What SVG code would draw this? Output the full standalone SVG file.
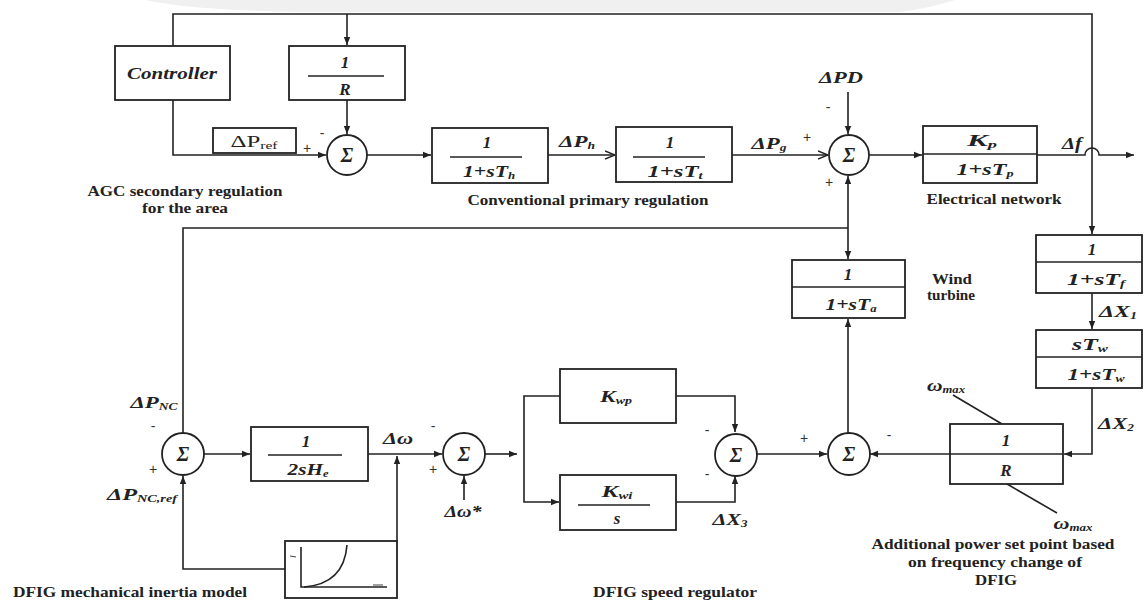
<svg xmlns="http://www.w3.org/2000/svg" width="1144" height="601" viewBox="0 0 1144 601">
<defs>
<marker id="ar" viewBox="0 0 10 10" refX="10" refY="5" markerWidth="8" markerHeight="8" markerUnits="userSpaceOnUse" orient="auto"><path d="M0,1 L10,5 L0,9 Z" fill="#222"/></marker>
<marker id="ao" viewBox="0 0 10 10" refX="10" refY="5" markerWidth="10" markerHeight="10" markerUnits="userSpaceOnUse" orient="auto"><path d="M0,1 L10,5 L0,9" fill="none" stroke="#222" stroke-width="1.5"/></marker>
</defs>
<style>
.ln{stroke:#222;stroke-width:1.6;fill:none}
.ar{marker-end:url(#ar)}
.ao{marker-end:url(#ao)}
.bx{stroke:#222;stroke-width:1.8;fill:#fff}
.fl{stroke:#222;stroke-width:1.6}
.sm{stroke:#222;stroke-width:1.8;fill:#fff}
.m{font-family:"Liberation Serif",serif;font-weight:bold;font-style:italic;font-size:17px;fill:#222;text-anchor:middle}
.sig{font-family:"Liberation Serif",serif;font-weight:bold;font-style:italic;font-size:20px;fill:#222;text-anchor:middle}
.r{font-family:"Liberation Serif",serif;font-size:16px;fill:#222;text-anchor:middle}
.cap{font-family:"Liberation Serif",serif;font-weight:bold;font-size:14.5px;fill:#222;text-anchor:middle}
.sg{font-family:"Liberation Sans",sans-serif;font-size:14px;fill:#333;text-anchor:middle}
.sb{font-size:10px}
</style>
<rect width="1144" height="601" fill="#fff"/>
<path d="M145,0 H955 Q930,8 900,12 L300,12 Q190,10 145,0 Z" fill="#f0f0f0"/>

<g id="connectors">
<path class="ln" d="M173,46 V14 H1092 V234" marker-end="url(#ar)"/>
<path class="ln ar" d="M347,14 V45"/>
<path class="ln ar" d="M173,100 V155 H326"/>
<path class="ln ar" d="M347,100 V134"/>
<path class="ln ar" d="M367,155 H431"/>
<path class="ln ao" d="M548,155 H615"/>
<path class="ln ao" d="M732,155 H828"/>
<path class="ln ar" d="M848,92 V134"/>
<path class="ln ar" d="M869,155 H922"/>
<path class="ln ar" d="M1037,155 H1085 A7,7 0 0 1 1099,155 H1134"/>
<path class="ln" d="M183,433 V228 H848"/>
<path class="ln ar" d="M848,228 V176"/>
<path class="ln ar" d="M848,228 V259"/>
<path class="ln ar" d="M848,433 V319"/>
<path class="ln ar" d="M1092,293 V329"/>
<path class="ln ar" d="M1092,388 V454 H1064"/>
<path class="ln ar" d="M950,454 H870"/>
<path class="ln ar" d="M757,454 H827"/>
<path class="ln ar" d="M676,396 H735 V432"/>
<path class="ln ar" d="M676,502 H735 V476"/>
<path class="ln ar" d="M485,454 H517"/>
<path class="ln ar" d="M560,396 H524 V502 H559"/>
<path class="ln ar" d="M464,500 V476"/>
<path class="ln ar" d="M368,454 H442"/>
<path class="ln ar" d="M397,541 V456"/>
<path class="ln ar" d="M285,569 H183 V476"/>
<path class="ln ar" d="M204,454 H250"/>
<path class="ln" d="M953,395 L1002,424"/>
<path class="ln" d="M1007,484 L1057,513"/>
</g>

<g id="controller">
<rect class="bx" x="115" y="46" width="115" height="54"/>
<text class="m" x="172" y="79" textLength="90" lengthAdjust="spacingAndGlyphs">Controller</text>
</g>

<g id="gain-1-R-top">
<rect class="bx" x="289" y="46" width="116" height="54"/>
<line class="fl" x1="308" y1="76" x2="384" y2="76"/>
<text class="m" x="345" y="68">1</text>
<text class="m" x="345" y="95">R</text>
</g>

<g id="delta-p-ref">
<rect class="bx" x="213" y="128" width="83" height="25"/>
<text class="r" x="254" y="147" textLength="47" lengthAdjust="spacingAndGlyphs">ΔP<tspan class="sb" dy="2">ref</tspan></text>
</g>

<g id="sum-agc">
<circle class="sm" cx="347" cy="155" r="20"/>
<text class="sig" x="347" y="162">Σ</text>
<text class="sg" x="307" y="153">+</text>
<text class="sg" x="322" y="138">-</text>
</g>

<g id="governor">
<rect class="bx" x="432" y="128" width="116" height="55"/>
<line class="fl" x1="450" y1="157" x2="522" y2="157"/>
<text class="m" x="487" y="148">1</text>
<text class="m" x="489" y="177" textLength="52" lengthAdjust="spacingAndGlyphs">1+sT<tspan class="sb" dy="2">h</tspan></text>
</g>

<g id="turbine">
<rect class="bx" x="616" y="127" width="116" height="55"/>
<line class="fl" x1="633" y1="157" x2="705" y2="157"/>
<text class="m" x="670" y="148">1</text>
<text class="m" x="675" y="177" textLength="55" lengthAdjust="spacingAndGlyphs">1+sT<tspan class="sb" dy="2">t</tspan></text>
</g>

<g id="sum-network">
<circle class="sm" cx="849" cy="155" r="20"/>
<text class="sig" x="849" y="162">Σ</text>
<text class="sg" x="807" y="142">+</text>
<text class="sg" x="828" y="112">-</text>
<text class="sg" x="829" y="187">+</text>
</g>

<g id="network">
<rect class="bx" x="923" y="126" width="114" height="57"/>
<line class="fl" x1="923" y1="154" x2="1037" y2="154"/>
<text class="m" x="982" y="146" textLength="30" lengthAdjust="spacingAndGlyphs">K<tspan class="sb" dy="2">p</tspan></text>
<text class="m" x="985" y="175" textLength="57" lengthAdjust="spacingAndGlyphs">1+sT<tspan class="sb" dy="2">p</tspan></text>
</g>

<g id="wind-turbine">
<rect class="bx" x="792" y="260" width="113" height="58"/>
<line class="fl" x1="792" y1="287" x2="905" y2="287"/>
<text class="m" x="848" y="280">1</text>
<text class="m" x="851" y="310" textLength="51" lengthAdjust="spacingAndGlyphs">1+sT<tspan class="sb" dy="2">a</tspan></text>
</g>

<g id="filter-tf">
<rect class="bx" x="1036" y="235" width="106" height="58"/>
<line class="fl" x1="1036" y1="262" x2="1142" y2="262"/>
<text class="m" x="1092" y="255">1</text>
<text class="m" x="1096" y="285" textLength="58" lengthAdjust="spacingAndGlyphs">1+sT<tspan class="sb" dy="2">f</tspan></text>
</g>

<g id="washout-tw">
<rect class="bx" x="1036" y="330" width="106" height="58"/>
<line class="fl" x1="1036" y1="357" x2="1142" y2="357"/>
<text class="m" x="1090" y="350" textLength="36" lengthAdjust="spacingAndGlyphs">sT<tspan class="sb" dy="2">w</tspan></text>
<text class="m" x="1096" y="380" textLength="57" lengthAdjust="spacingAndGlyphs">1+sT<tspan class="sb" dy="2">w</tspan></text>
</g>

<g id="gain-1-R-dfig">
<rect class="bx" x="950" y="424" width="113" height="60"/>
<line class="fl" x1="950" y1="454" x2="1063" y2="454"/>
<text class="m" x="1006" y="446">1</text>
<text class="m" x="1006" y="476">R</text>
</g>

<g id="sum-dfig-power">
<circle class="sm" cx="849" cy="454" r="21"/>
<text class="sig" x="849" y="461">Σ</text>
<text class="sg" x="804" y="443">+</text>
<text class="sg" x="889" y="440">-</text>
</g>

<g id="sum-speed-reg">
<circle class="sm" cx="736" cy="455" r="21"/>
<text class="sig" x="736" y="462">Σ</text>
<text class="sg" x="707" y="435">-</text>
<text class="sg" x="707" y="479">-</text>
</g>

<g id="kwp">
<rect class="bx" x="560" y="369" width="116" height="54"/>
<text class="m" x="616" y="402" textLength="32" lengthAdjust="spacingAndGlyphs">K<tspan class="sb" dy="2">wp</tspan></text>
</g>

<g id="kwi">
<rect class="bx" x="560" y="475" width="116" height="55"/>
<line class="fl" x1="578" y1="505" x2="650" y2="505"/>
<text class="m" x="617" y="497" textLength="31" lengthAdjust="spacingAndGlyphs">K<tspan class="sb" dy="2">wi</tspan></text>
<text class="m" x="617" y="524">s</text>
</g>

<g id="sum-speed-error">
<circle class="sm" cx="464" cy="454" r="21"/>
<text class="sig" x="464" y="461">Σ</text>
<text class="sg" x="433" y="431">-</text>
<text class="sg" x="433" y="474">+</text>
</g>

<g id="inertia">
<rect class="bx" x="251" y="427" width="117" height="54"/>
<line class="fl" x1="268" y1="455" x2="342" y2="455"/>
<text class="m" x="306" y="447">1</text>
<text class="m" x="308" y="475" textLength="41" lengthAdjust="spacingAndGlyphs">2sH<tspan class="sb" dy="2">e</tspan></text>
</g>

<g id="sum-inertia">
<circle class="sm" cx="183" cy="454" r="21"/>
<text class="sig" x="183" y="461">Σ</text>
<text class="sg" x="153" y="431">-</text>
<text class="sg" x="153" y="474">+</text>
</g>

<g id="power-curve">
<rect class="bx" x="285" y="541" width="112" height="57"/>
<path class="ln" d="M301,547 V587 H387"/>
<path class="ln" d="M304,587 Q344,584 347,545"/>
<line x1="290" y1="556" x2="296" y2="557" stroke="#444" stroke-width="1"/>
<line x1="373" y1="585" x2="383" y2="585" stroke="#444" stroke-width="1"/>
</g>

<g id="labels">
<text class="m" x="577" y="147" textLength="36" lengthAdjust="spacingAndGlyphs">ΔP<tspan class="sb" dy="2">h</tspan></text>
<text class="m" x="769" y="149" textLength="35" lengthAdjust="spacingAndGlyphs">ΔP<tspan class="sb" dy="2">g</tspan></text>
<text class="m" x="841" y="83" textLength="44" lengthAdjust="spacingAndGlyphs">ΔPD</text>
<text class="m" x="1072" y="149" textLength="20" lengthAdjust="spacingAndGlyphs">Δf</text>
<text class="m" x="1118" y="317" textLength="38" lengthAdjust="spacingAndGlyphs">ΔX<tspan class="sb" dy="2">1</tspan></text>
<text class="m" x="1116" y="429" textLength="36" lengthAdjust="spacingAndGlyphs">ΔX<tspan class="sb" dy="2">2</tspan></text>
<text class="m" x="730" y="525" textLength="35" lengthAdjust="spacingAndGlyphs">ΔX<tspan class="sb" dy="2">3</tspan></text>
<text class="m" x="398" y="444" textLength="30" lengthAdjust="spacingAndGlyphs">Δω</text>
<text class="m" x="463" y="517" textLength="37" lengthAdjust="spacingAndGlyphs">Δω*</text>
<text class="m" x="154" y="408" textLength="47" lengthAdjust="spacingAndGlyphs">ΔP<tspan class="sb" dy="2">NC</tspan></text>
<text class="m" x="142" y="500" textLength="70" lengthAdjust="spacingAndGlyphs">ΔP<tspan class="sb" dy="2">NC,ref</tspan></text>
<text class="m" x="946" y="391" textLength="38" lengthAdjust="spacingAndGlyphs">ω<tspan class="sb" dy="2">max</tspan></text>
<text class="m" x="1073" y="529" textLength="39" lengthAdjust="spacingAndGlyphs">ω<tspan class="sb" dy="2">max</tspan></text>
</g>

<g id="captions">
<text class="cap" x="185" y="196" textLength="195" lengthAdjust="spacingAndGlyphs">AGC secondary regulation</text>
<text class="cap" x="185" y="213" textLength="86" lengthAdjust="spacingAndGlyphs">for the area</text>
<text class="cap" x="588" y="205" textLength="241" lengthAdjust="spacingAndGlyphs">Conventional primary regulation</text>
<text class="cap" x="994" y="204" textLength="135" lengthAdjust="spacingAndGlyphs">Electrical network</text>
<text class="cap" x="952" y="284" textLength="40" lengthAdjust="spacingAndGlyphs">Wind</text>
<text class="cap" x="951" y="300" textLength="48" lengthAdjust="spacingAndGlyphs">turbine</text>
<text class="cap" x="993" y="549" textLength="243" lengthAdjust="spacingAndGlyphs">Additional power set point based</text>
<text class="cap" x="995" y="567" textLength="174" lengthAdjust="spacingAndGlyphs">on frequency change of</text>
<text class="cap" x="996" y="585" textLength="42" lengthAdjust="spacingAndGlyphs">DFIG</text>
<text class="cap" x="130" y="597" textLength="234" lengthAdjust="spacingAndGlyphs">DFIG mechanical inertia model</text>
<text class="cap" x="675" y="597" textLength="164" lengthAdjust="spacingAndGlyphs">DFIG speed regulator</text>
</g>
</svg>
